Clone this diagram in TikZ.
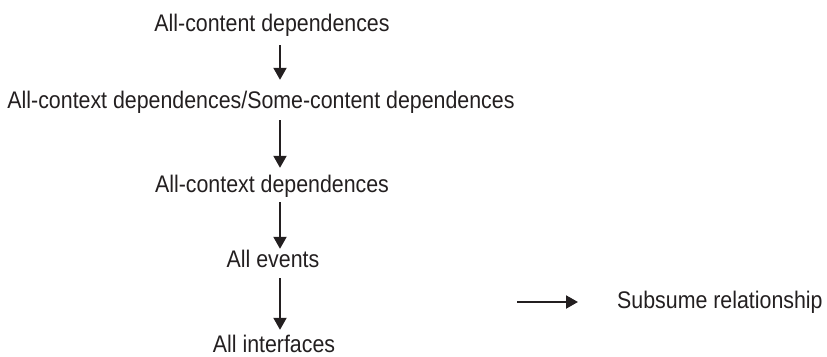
\documentclass[tikz,border=0pt]{standalone}
\usepackage{fontspec}
\setmainfont{Liberation Sans}[FakeStretch=0.89]
\usetikzlibrary{arrows.meta}
\definecolor{ink}{HTML}{231F20}
\begin{document}
\begin{tikzpicture}[x=1pt,y=-1pt,
  level/.style={anchor=base,inner sep=0pt,text height=16pt,text depth=4pt,
    font=\fontsize{24pt}{28pt}\selectfont,text=ink},
  subsume/.style={draw=ink,line width=2pt,-{Triangle[width=13pt,length=12pt]}}]
\useasboundingbox (0,0) rectangle (827,356);

% hierarchy levels, written at their baselines
\node[level] (t1) at (272,31)  {All-content dependences};
\node[level] (t2) at (261,108) {All-context dependences/Some-content dependences};
\node[level] (t3) at (272,192) {All-context dependences};
\node[level] (t4) at (273,267) {All events};
\node[level] (t5) at (274,352) {All interfaces};

% vertical axis of the arrows
\coordinate (ax) at (280,0);

\draw[subsume,shorten <=10pt,shorten >=12pt] (t1.south -| ax) -- (t2.north -| ax);
\draw[subsume,shorten <=8pt,shorten >=8pt]   (t2.south -| ax) -- (t3.north -| ax);
\draw[subsume,shorten <=6pt,shorten >=2pt]   (t3.south -| ax) -- (t4.north -| ax);
\draw[subsume,shorten <=7pt,shorten >=6pt]   (t4.south -| ax) -- (t5.north -| ax);

% legend
\coordinate (l1) at (517,302);
\coordinate (l2) at (578,302);
\draw[subsume] (l1) -- (l2);
\node[level,anchor=base west] (legend) at (617,308) {Subsume relationship};
\end{tikzpicture}
\end{document}
